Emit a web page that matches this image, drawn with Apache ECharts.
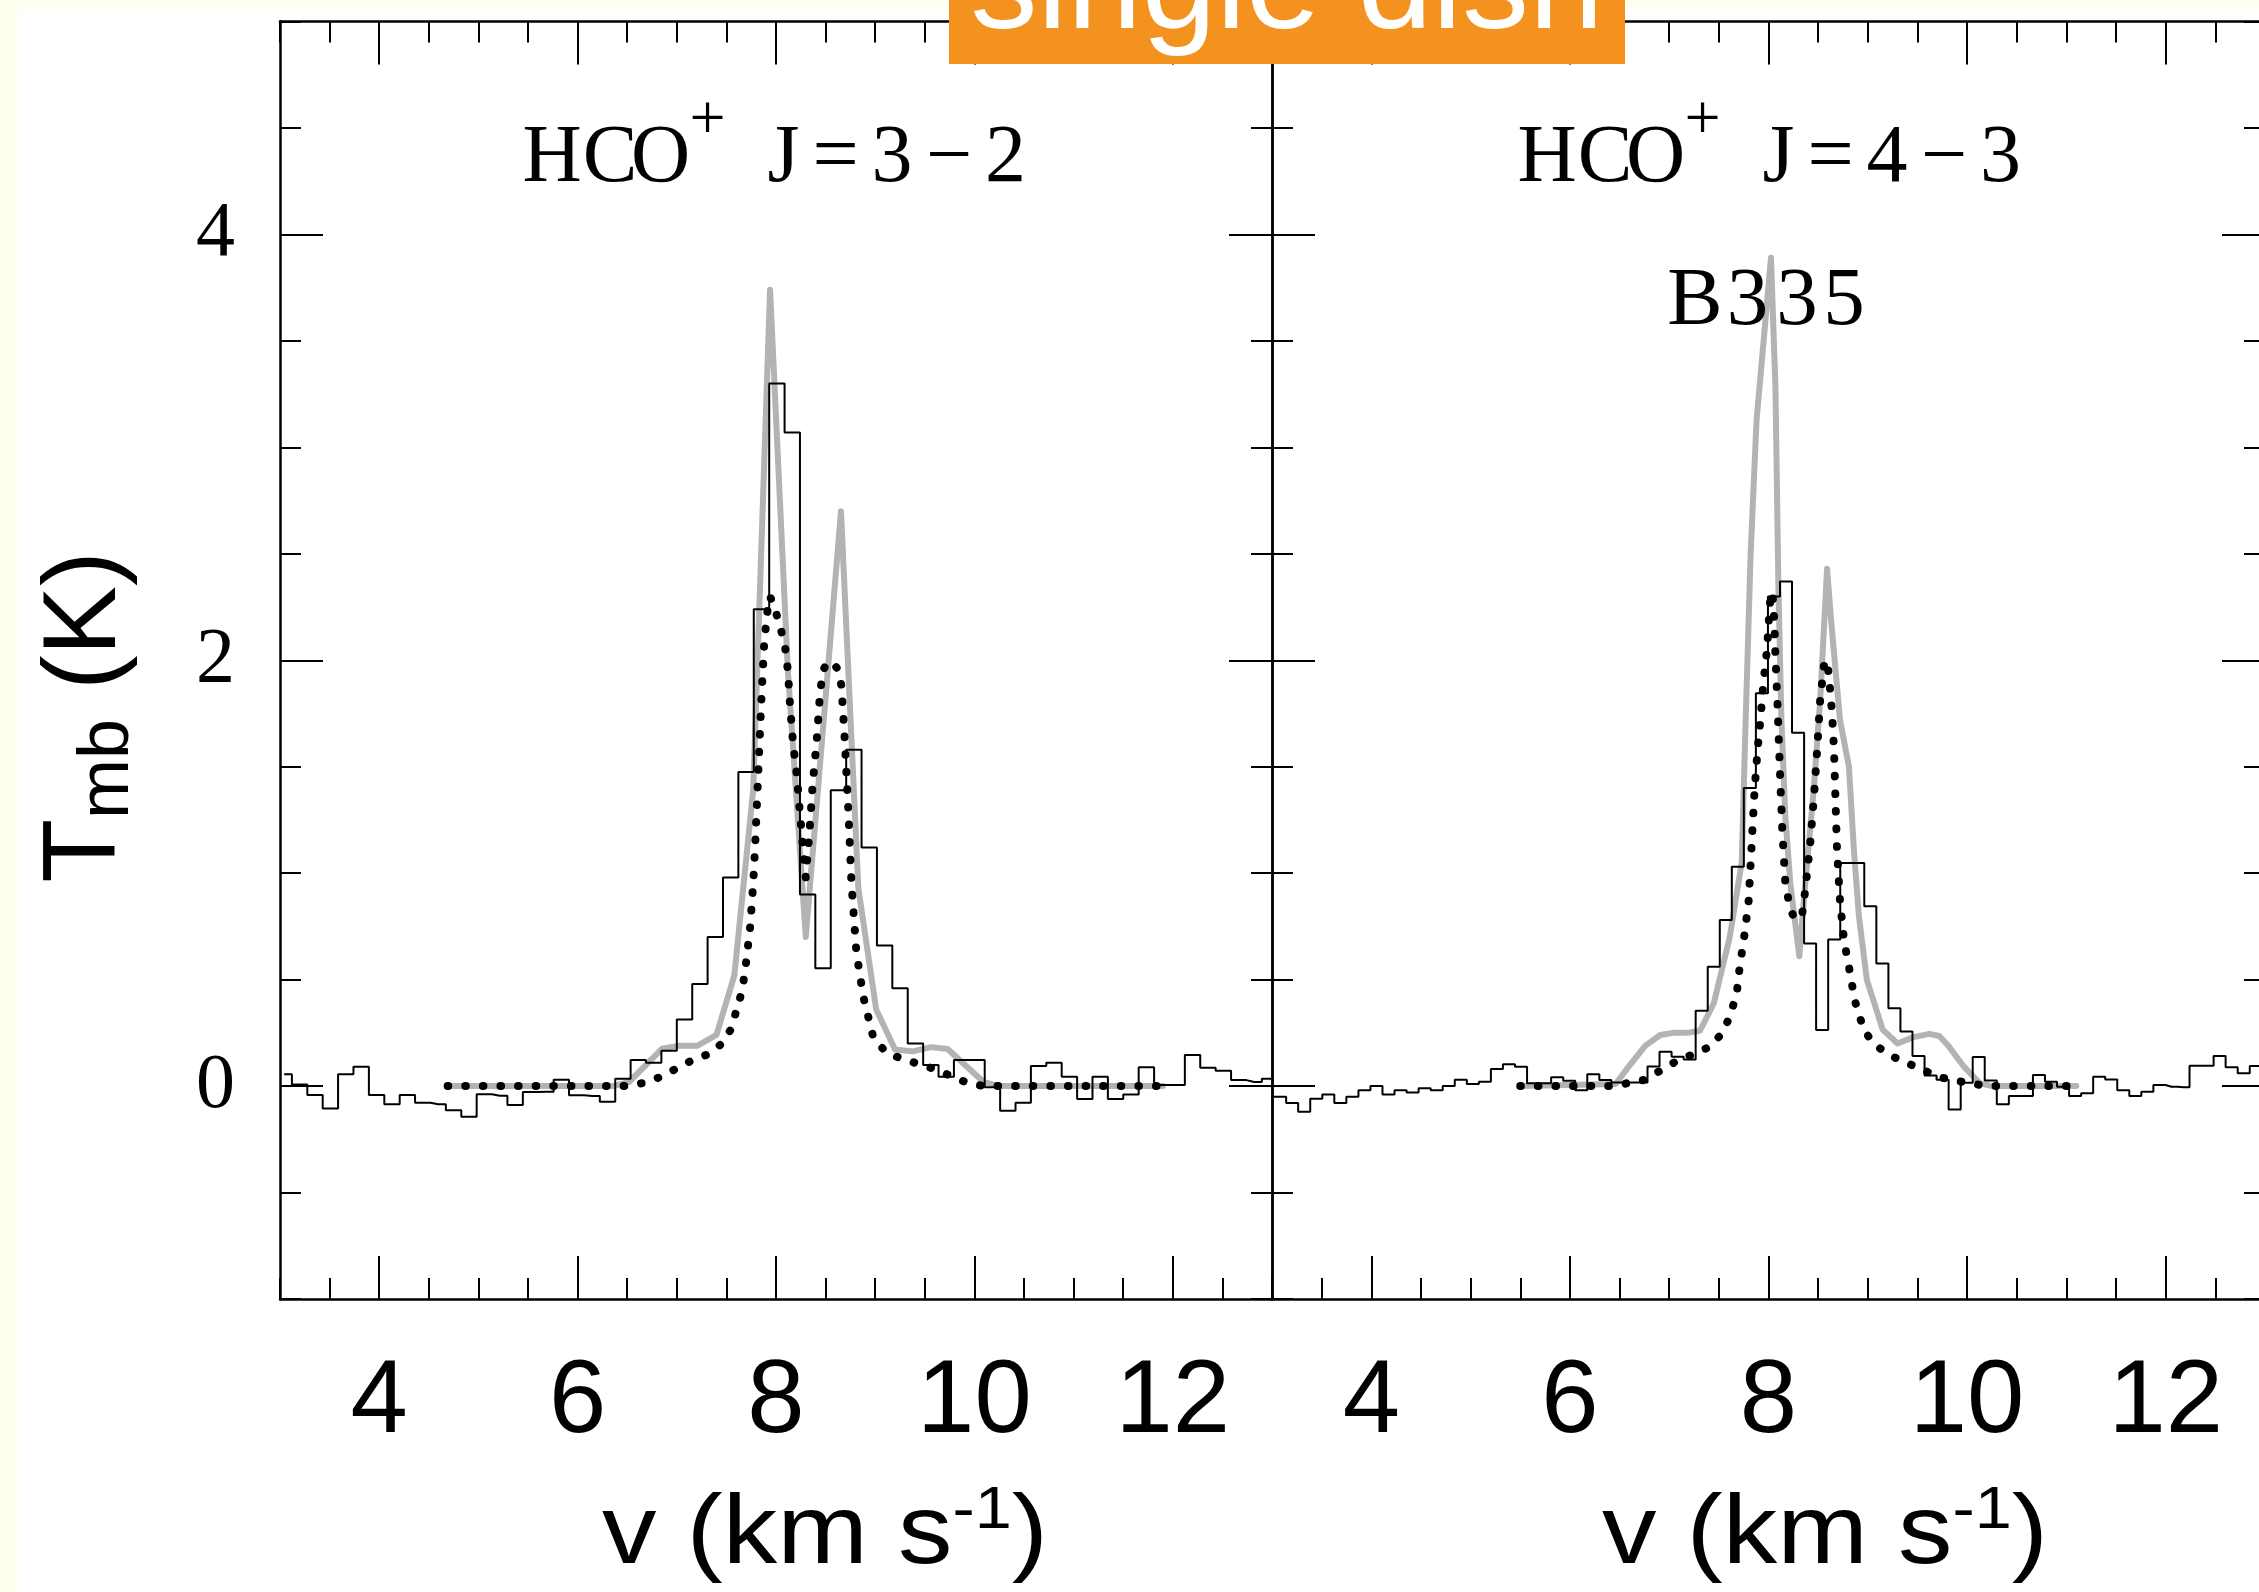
<!DOCTYPE html>
<html><head><meta charset="utf-8">
<script src="https://cdn.jsdelivr.net/npm/echarts@6.0.0/dist/echarts.min.js"></script>
<style>
html,body{margin:0;padding:0;background:#fffff0;overflow:hidden;width:2259px;height:1592px}
#paper{position:absolute;left:18px;top:9px;right:0;bottom:0;background:#fff}
#chart{position:absolute;left:0;top:0;width:2259px;height:1592px}
</style></head><body>
<div id="paper"></div><div id="chart"></div>
<script>
// ---------------- data ----------------
// HCO+ J=3-2 observed spectrum (channel centre velocity, Tmb)
const vel32 = [3.042,3.198,3.353,3.508,3.663,3.818,3.974,4.129,4.284,4.439,
  4.594,4.750,4.905,5.060,5.215,5.370,5.526,5.681,5.836,5.991,
  6.146,6.302,6.457,6.612,6.767,6.922,7.078,7.233,7.388,7.543,
  7.698,7.854,8.009,8.164,8.319,8.474,8.630,8.785,8.940,9.095,
  9.250,9.406,9.561,9.716,9.871,10.026,10.182,10.337,10.492,10.647,
  10.802,10.958,11.113,11.268,11.423,11.578,11.734,11.889,12.044,12.199,
  12.354,12.510,12.665,12.820,12.975,13.130];
const tmb32 = [0.055,0.007,-0.042,-0.105,0.056,0.091,-0.042,-0.085,-0.042,-0.078,
  -0.085,-0.114,-0.144,-0.038,-0.045,-0.089,-0.028,-0.027,0.03,-0.043,
  -0.047,-0.074,0.034,0.122,0.11,0.166,0.313,0.48,0.70,0.98,
  1.475,2.24,3.30,3.07,0.9,0.553,1.39,1.58,1.12,0.66,
  0.46,0.20,0.099,0.044,0.122,0.122,-0.006,-0.116,-0.078,0.094,
  0.11,0.044,-0.061,0.044,-0.061,-0.039,0.088,0.005,0.005,0.146,
  0.086,0.072,0.028,0.019,0.034,0.034];
// HCO+ J=3-2 grey model
const grey32V = [4.69,6.36,6.52,6.85,7.03,7.21,7.40,7.58,7.77,7.94,8.12,8.30,8.655,8.83,9.01,9.20,9.38,9.565,9.73,10.09,10.25,11.9];
const grey32T = [0,0,0.02,0.175,0.19,0.19,0.24,0.52,1.39,3.74,1.95,0.70,2.70,0.93,0.36,0.172,0.163,0.183,0.174,0.02,0,0];
// HCO+ J=3-2 dotted model
const dot32V = [4.69,6.49,6.68,6.83,7.0,7.165,7.32,7.45,7.55,7.60,7.66,7.70,7.74,7.77,7.79,7.82,7.85,7.88,7.91,7.94,7.99,8.04,8.09,8.12,8.14,8.17,8.21,8.24,8.27,8.30,8.34,8.37,8.41,8.44,8.47,8.52,8.57,8.62,8.66,8.69,8.73,8.76,8.81,8.88,8.98,9.11,9.25,9.415,9.58,9.75,9.92,10.09,11.9];
const dot32T = [0,0,0.016,0.042,0.083,0.124,0.15,0.198,0.27,0.354,0.45,0.585,0.75,0.95,1.13,1.46,1.79,2.07,2.22,2.30,2.24,2.16,2.07,1.95,1.80,1.62,1.46,1.29,1.13,0.98,1.21,1.42,1.62,1.82,1.95,1.99,1.99,1.96,1.88,1.65,1.29,0.96,0.63,0.42,0.23,0.157,0.132,0.107,0.083,0.05,0.017,0,0];

// HCO+ J=4-3 observed spectrum
const vel43 = [2.960,3.082,3.203,3.324,3.446,3.567,3.688,3.810,3.931,4.052,
  4.173,4.295,4.416,4.537,4.659,4.780,4.901,5.023,5.144,5.265,
  5.386,5.508,5.629,5.750,5.872,5.993,6.114,6.236,6.357,6.478,
  6.599,6.721,6.842,6.963,7.085,7.206,7.327,7.449,7.570,7.691,
  7.812,7.934,8.055,8.176,8.298,8.419,8.540,8.662,8.783,8.904,
  9.025,9.147,9.268,9.389,9.511,9.632,9.753,9.875,9.996,10.117,
  10.238,10.360,10.481,10.602,10.724,10.845,10.966,11.088,11.209,11.330,
  11.451,11.573,11.694,11.815,11.937,12.058,12.179,12.301,12.422,12.543,
  12.664,12.786,12.907,13.028];
const tmb43 = [-0.05,-0.05,-0.08,-0.12,-0.06,-0.04,-0.08,-0.05,-0.02,0.0,
  -0.04,-0.02,-0.03,-0.01,-0.02,0.0,0.03,0.01,0.02,0.08,
  0.103,0.091,0.013,0.013,0.041,0.025,-0.019,0.056,0.028,0.017,
  0.017,0.017,0.092,0.161,0.138,0.125,0.354,0.56,0.78,1.03,
  1.40,1.845,2.30,2.37,1.66,0.67,0.263,0.689,1.048,1.048,
  0.845,0.576,0.365,0.256,0.141,0.05,0.03,-0.11,0.016,0.137,
  0.026,-0.085,-0.047,-0.047,0.052,0.02,-0.003,-0.047,-0.034,0.044,
  0.031,-0.019,-0.047,-0.027,0.005,-0.003,-0.006,0.095,0.095,0.141,
  0.088,0.06,0.094,0.094];
const grey43V = [5.50,6.46,6.59,6.76,6.91,7.04,7.18,7.31,7.45,7.61,7.73,7.77,7.82,7.88,7.97,8.025,8.07,8.10,8.13,8.17,8.22,8.31,8.37,8.455,8.52,8.59,8.63,8.72,8.81,8.86,8.91,8.99,9.15,9.30,9.46,9.62,9.72,9.81,9.97,10.13,10.25,11.10];
const grey43T = [0,0.01,0.09,0.19,0.24,0.25,0.25,0.26,0.39,0.70,1.05,1.72,2.50,3.13,3.60,3.89,3.28,2.34,1.72,1.26,0.95,0.61,0.95,1.39,1.81,2.43,2.19,1.72,1.50,1.11,0.80,0.50,0.265,0.20,0.23,0.245,0.235,0.19,0.09,0.013,0,0];
const dot43V = [5.50,6.46,6.57,6.74,6.91,7.08,7.245,7.41,7.53,7.61,7.68,7.71,7.76,7.80,7.82,7.84,7.86,7.89,7.92,7.95,7.985,8.00,8.02,8.04,8.06,8.07,8.09,8.12,8.14,8.17,8.22,8.27,8.34,8.37,8.42,8.455,8.49,8.52,8.56,8.59,8.61,8.64,8.66,8.675,8.69,8.72,8.76,8.81,8.87,8.96,9.06,9.19,9.36,9.53,9.70,9.865,10.03,10.20,11.09];
const dot43T = [0,0,0.013,0.028,0.072,0.119,0.15,0.185,0.247,0.325,0.435,0.56,0.717,0.87,1.045,1.22,1.39,1.58,1.73,1.90,2.05,2.16,2.30,2.32,2.17,2.02,1.80,1.42,1.19,0.95,0.83,0.78,0.81,0.92,1.14,1.34,1.58,1.81,1.98,2.0,1.92,1.75,1.58,1.34,1.11,0.87,0.685,0.56,0.40,0.263,0.20,0.153,0.114,0.083,0.044,0.028,0.013,0,0];

// tick labels
const xTickValues = [4, 6, 8, 10, 12];
const yTickValues = [0, 2, 4];

// ---------------- chart ----------------
const black = '#000';
const pairs = (xs, ys) => xs.map((x, i) => [x, ys[i]]);

function xAxes(g, labels) {
  const base = { type: 'value', gridIndex: g, min: 3, max: 13, splitLine: { show: false } };
  const major = (pos, lab) => Object.assign({}, base, {
    position: pos,
    axisLine: { show: true, onZero: false, lineStyle: { color: black, width: 2.5 } },
    axisTick: { show: true, inside: true, length: 43, customValues: xTickValues, lineStyle: { color: black, width: 2 } },
    axisLabel: lab ? { show: true, customValues: xTickValues, margin: 53, color: black,
      fontFamily: 'Liberation Sans', fontSize: 103 } : { show: false }
  });
  const minor = (pos) => Object.assign({}, base, {
    position: pos, interval: 0.5,
    axisLine: { show: false, onZero: false },
    axisTick: { show: true, inside: true, length: 21, lineStyle: { color: black, width: 2 } },
    axisLabel: { show: false }
  });
  return [major('bottom', labels), minor('bottom'), major('top', false), minor('top')];
}
function yAxes(g, labels) {
  const base = { type: 'value', gridIndex: g, min: -1, max: 5, splitLine: { show: false } };
  const major = (pos, lab) => Object.assign({}, base, {
    position: pos,
    axisLine: { show: true, onZero: false, lineStyle: { color: black, width: 2.5 } },
    axisTick: { show: true, inside: true, length: 43, customValues: yTickValues, lineStyle: { color: black, width: 2 } },
    axisLabel: lab ? { show: true, customValues: yTickValues, margin: 45, color: black,
      fontFamily: 'Liberation Serif', fontSize: 78 } : { show: false }
  });
  const minor = (pos) => Object.assign({}, base, {
    position: pos, interval: 0.5,
    axisLine: { show: false, onZero: false },
    axisTick: { show: true, inside: true, length: 21, lineStyle: { color: black, width: 2 } },
    axisLabel: { show: false }
  });
  return [major('left', labels), minor('left'), major('right', false), minor('right')];
}

function histSeries(xi, v, t) {
  return { type: 'line', xAxisIndex: xi, yAxisIndex: xi, data: pairs(v, t), step: 'middle',
    showSymbol: false, symbol: 'none', z: 3, clip: true,
    lineStyle: { color: black, width: 2 } };
}
function greySeries(xi, v, t) {
  return { type: 'line', xAxisIndex: xi, yAxisIndex: xi, data: pairs(v, t),
    showSymbol: false, symbol: 'none', z: 2, clip: true,
    lineStyle: { color: '#b3b3b3', width: 6, cap: 'round', join: 'round' } };
}
function dotSeries(xi, v, t) {
  return { type: 'line', xAxisIndex: xi, yAxisIndex: xi, data: pairs(v, t),
    showSymbol: false, symbol: 'none', z: 4, clip: true,
    lineStyle: { color: black, width: 8, type: [0.6, 17.0], cap: 'round', join: 'round' } };
}

const serif = (px) => px + 'px "Liberation Serif"';
function glyphs(list, y, px) {
  return list.map(([ch, cx]) => ({ type: 'text', x: cx, y: y, z: 50,
    style: { text: ch, font: serif(px), fill: black, align: 'center', verticalAlign: 'middle',
      textAlign: 'center', textVerticalAlign: 'middle' } }));
}
function panelTitle(dx, lastTwo) {
  return [].concat(
    glyphs([['H', 552 + dx], ['C', 610 + dx], ['O', 660.5 + dx]], 159.3, 82),
    glyphs([['+', 707.5 + dx]], 122, 64),
    glyphs([['J', 783.5 + dx], ['=', 835.5 + dx], [lastTwo[0], 892 + dx], ['\u2212', 949 + dx], [lastTwo[1], 1005.5 + dx]], 159.3, 82)
  );
}
function xTitle(left) {
  return { type: 'text', x: left, y: 1481, z: 50, scaleX: 1.11, scaleY: 1,
    style: { text: '{a|v (km s}{b|-1}{a|)}', fill: black, align: 'left', verticalAlign: 'top',
      textAlign: 'left', textVerticalAlign: 'top',
      rich: { a: { fontFamily: 'Liberation Sans', fontSize: 98, lineHeight: 110, fill: black, color: black },
              b: { fontFamily: 'Liberation Sans', fontSize: 60, lineHeight: 70, verticalAlign: 'top', fill: black, color: black } } } };
}

const option = {
  animation: false,
  backgroundColor: 'transparent',
  grid: [
    { left: 280, top: 21.5, width: 992, height: 1277.5, containLabel: false, outerBoundsMode: 'none' },
    { left: 1272, top: 21.5, width: 993, height: 1277.5, containLabel: false, outerBoundsMode: 'none' }
  ],
  xAxis: [].concat(xAxes(0, true), xAxes(1, true)),
  yAxis: [].concat(yAxes(0, true), yAxes(1, false)),
  series: [
    greySeries(0, grey32V, grey32T), histSeries(0, vel32, tmb32), dotSeries(0, dot32V, dot32T),
    greySeries(4, grey43V, grey43T), histSeries(4, vel43, tmb43), dotSeries(4, dot43V, dot43T)
  ],
  graphic: [].concat(
    panelTitle(0, ['3', '2']),
    panelTitle(995, ['4', '3']),
    glyphs([['B', 1695], ['3', 1747.5], ['3', 1797], ['5', 1844]], 302, 83),
    [xTitle(602), xTitle(1602),
     { type: 'text', x: 86, y: 717, rotation: Math.PI / 2, z: 50,
       style: { text: '{a|T}{b|mb}{a| (K)}', fill: black, align: 'center', verticalAlign: 'middle',
         textAlign: 'center', textVerticalAlign: 'middle',
         rich: { a: { fontFamily: 'Liberation Sans', fontSize: 104, lineHeight: 116, fill: black, color: black },
                 b: { fontFamily: 'Liberation Sans', fontSize: 72, lineHeight: 72, verticalAlign: 'bottom', fill: black, color: black } } } },
     { type: 'rect', z: 100, shape: { x: 949, y: -60, width: 676, height: 124 }, style: { fill: '#f3921f' } },
     { type: 'text', x: 1287, y: -9, z: 101,
       style: { text: 'single dish', font: '134px "Liberation Sans"', fill: '#fff', align: 'center', verticalAlign: 'middle',
         textAlign: 'center', textVerticalAlign: 'middle' } }]
  )
};

const chart = echarts.init(document.getElementById('chart'), null, { renderer: 'canvas', width: 2259, height: 1592 });
chart.setOption(option);
</script>
</body></html>
